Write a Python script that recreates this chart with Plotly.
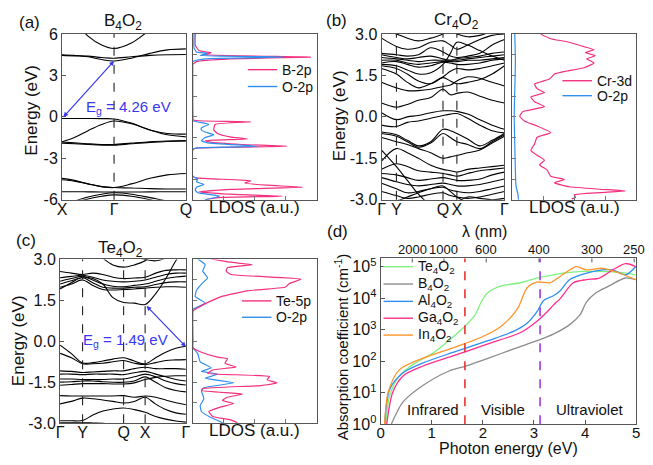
import plotly.graph_objects as go

W, H = 653, 465
def px(x): return x / W
def py(y): return 1 - y / H

FONT = "Liberation Sans, Arial, sans-serif"
PINK = "#f2307f"
BLUE = "#2f8fee"
ARROW = "#3838f0"

# ---------------- (a) B4O2 band structure ----------------
A_KLABELS = ["X", "Γ", "Q"]
A_KPOS = [0, 0.42, 1.0]
K_A = [0, 0.1, 0.21, 0.32, 0.42, 0.56, 0.71, 0.85, 1.0]
A_BANDS = [
    [7.6, 6.9, 5.85, 5.2, 4.95, 5.35, 6.3, 7.2, 8.0],
    [4.5, 4.45, 4.35, 4.15, 4.05, 4.25, 4.6, 4.85, 4.92],
    [4.45, 4.42, 4.4, 4.3, 4.25, 4.35, 4.45, 4.5, 4.52],
    [-0.12, -0.12, -0.12, -0.13, -0.15, -0.45, -0.95, -1.2, -1.25],
    [-1.8, -1.5, -1.0, -0.55, -0.3, -0.5, -0.95, -1.3, -1.45],
    [-1.9, -1.95, -2.0, -2.05, -2.05, -1.95, -1.85, -1.78, -1.75],
    [-1.82, -1.88, -1.95, -2.0, -2.0, -1.9, -1.8, -1.75, -1.72],
    [-4.45, -4.6, -4.85, -5.05, -5.12, -4.85, -4.45, -4.2, -4.1],
    [-4.55, -4.65, -4.85, -5.05, -5.12, -5.15, -5.2, -5.22, -5.22],
    [-5.42, -5.42, -5.43, -5.44, -5.44, -5.44, -5.43, -5.42, -5.42],
    [-6.4, -6.1, -5.8, -5.6, -5.5, -5.6, -5.85, -6.1, -6.3],
    [-6.5, -6.2, -5.95, -5.75, -5.65, -5.75, -6.0, -6.3, -6.5],
]
A_GAP = {"k0": 0.0, "e0": -0.12, "k1": 0.42, "e1": 4.05, "label": "E<sub>g</sub> = 4.26 eV"}

A_LDOS_NAMES = ["B-2p", "O-2p"]
A_B2P_E = [6.0, 5.2, 4.8, 4.64, 4.5, 4.33, 4.2, 4.0, 3.8, 3.6, 0.0, -0.2, -0.28, -0.36, -0.55, -0.95,
           -1.2, -1.45, -1.6, -1.72, -1.85, -2.0, -2.13, -2.25, -2.35, -4.3, -4.42, -4.63, -4.79, -4.95,
           -5.09, -5.25, -5.44, -5.6, -5.74, -5.85, -6.0]
A_B2P_X = [0.02, 0.02, 0.05, 0.15, 0.08, 0.95, 0.3, 0.03, 0.0, 0.0, 0.0, 0.0, 0.05, 0.47, 0.18, 0.17,
           0.2, 0.3, 0.44, 0.1, 0.15, 0.4, 0.76, 0.05, 0.0, 0.0, 0.03, 0.47, 0.42, 0.6,
           0.89, 0.3, 0.05, 0.3, 0.72, 0.2, 0.1]
A_O2P_E = [6.0, 5.0, 4.7, 4.6, 4.45, 4.33, 4.2, 4.0, 0.0, -0.25, -0.35, -0.54, -0.8, -0.97, -1.1, -1.3,
           -1.5, -1.72, -1.88, -2.13, -2.25, -2.4, -4.3, -4.5, -4.7, -4.9, -5.1, -5.3, -5.5, -5.74, -6.0]
A_O2P_X = [0.01, 0.01, 0.03, 0.12, 0.06, 0.74, 0.1, 0.0, 0.0, 0.0, 0.03, 0.13, 0.07, 0.07, 0.1, 0.17,
           0.1, 0.07, 0.12, 0.52, 0.03, 0.0, 0.0, 0.04, 0.03, 0.09, 0.03, 0.02, 0.04, 0.22, 0.1]

# ---------------- (b) Cr4O2 band structure ----------------
B_KLABELS = ["Γ", "Y", "Q", "X", "Γ"]
B_KPOS = [0, 0.121, 0.5, 0.613, 1.0]
K_B = [0, 0.121, 0.21, 0.3, 0.4, 0.5, 0.56, 0.613, 0.7, 0.8, 0.9, 1.0]
B_BANDS = [
    [3.2, 3.0, 2.85, 2.75, 2.85, 3.0, 3.1, 3.0, 2.9, 2.95, 3.1, 3.2],
    [2.85, 2.55, 2.45, 2.5, 2.7, 2.75, 2.6, 2.45, 2.6, 2.8, 2.95, 3.0],
    [2.3, 2.25, 2.2, 2.25, 2.5, 2.35, 2.2, 2.15, 2.2, 2.3, 2.6, 2.8],
    [2.25, 2.15, 2.1, 2.15, 2.2, 2.1, 2.05, 2.1, 2.15, 2.2, 2.3, 2.35],
    [2.15, 2.1, 2.05, 2.0, 2.05, 2.05, 2.05, 2.05, 2.1, 2.15, 2.2, 2.25],
    [2.05, 2.05, 1.95, 1.9, 1.95, 2.0, 2.0, 2.0, 2.05, 2.05, 2.1, 2.15],
    [1.95, 2.0, 1.9, 1.8, 1.85, 1.98, 1.95, 1.9, 1.9, 1.95, 2.05, 2.1],
    [1.9, 1.85, 1.7, 1.55, 1.6, 1.9, 2.3, 2.7, 2.6, 2.4, 2.2, 2.05],
    [1.85, 1.75, 1.55, 1.3, 1.2, 1.45, 1.65, 1.75, 1.7, 1.75, 1.85, 1.95],
    [1.75, 1.55, 1.25, 1.05, 1.2, 1.42, 1.3, 1.2, 1.25, 1.35, 1.55, 1.85],
    [1.25, 1.05, 0.95, 0.95, 1.0, 1.1, 1.15, 1.3, 1.45, 1.4, 1.25, 1.12],
    [0.5, 0.35, 0.45, 0.6, 0.7, 1.0, 0.8, 0.85, 0.9, 0.75, 0.6, 0.5],
    [0.15, -0.1, 0.0, 0.05, 0.15, 0.22, 0.22, 0.2, 0.1, -0.1, -0.3, -0.45],
    [-0.3, -0.35, -0.2, -0.15, -0.05, 0.05, 0.1, 0.12, -0.05, -0.3, -0.5, -0.58],
    [-0.55, -0.65, -0.85, -1.05, -0.9, -0.45, -0.5, -0.6, -0.8, -1.05, -0.85, -0.6],
    [-0.6, -0.7, -0.9, -1.1, -0.95, -0.6, -0.75, -0.9, -1.0, -1.15, -0.9, -0.65],
    [-0.75, -0.9, -1.0, -1.15, -1.3, -1.5, -1.45, -1.4, -1.3, -1.2, -0.95, -0.7],
    [-1.6, -1.15, -1.3, -1.5, -1.75, -1.9, -1.95, -2.0, -1.9, -1.85, -1.8, -1.75],
    [-1.9, -1.7, -1.8, -1.95, -2.0, -2.05, -2.1, -2.15, -2.05, -1.95, -1.9, -1.85],
    [-2.05, -2.1, -2.2, -2.3, -2.25, -2.2, -2.25, -2.3, -2.3, -2.25, -2.1, -2.0],
    [-2.2, -2.35, -2.45, -2.5, -2.45, -2.4, -2.45, -2.5, -2.5, -2.45, -2.35, -2.25],
    [-2.4, -2.6, -2.75, -2.7, -2.6, -2.55, -2.65, -2.7, -2.75, -2.7, -2.6, -2.5],
    [-2.7, -2.85, -2.95, -2.9, -2.8, -2.75, -2.85, -2.9, -2.95, -2.9, -2.8, -2.7],
    [-1.2, -1.8, -2.3, -2.8, -3.2, -3.4, -3.3, -3.1, -2.9, -2.95, -3.0, -2.95],
    [-3.2, -3.05, -2.9, -2.75, -2.6, -2.5, -2.7, -2.9, -3.1, -3.2, -3.3, -3.3],
]
B_LDOS_NAMES = ["Cr-3d", "O-2p"]
B_CR3D_E = [2.99, 2.83, 2.72, 2.54, 2.43, 2.33, 2.21, 2.1, 1.95, 1.78, 1.66, 1.55, 1.37, 1.19, 1.02,
            0.88, 0.72, 0.55, 0.37, 0.19, 0.02, -0.16, -0.33, -0.57, -0.74, -0.98, -1.21, -1.39,
            -1.57, -1.74, -1.92, -2.15, -2.27, -2.39, -2.53, -2.62, -2.68, -2.74, -2.82, -2.92, -2.97]
B_CR3D_X = [0.23, 0.31, 0.44, 0.58, 0.66, 0.59, 0.67, 0.6, 0.66, 0.58, 0.44, 0.34, 0.3, 0.18, 0.2,
            0.26, 0.15, 0.18, 0.26, 0.085, 0.06, 0.1, 0.2, 0.31, 0.2, 0.18, 0.15, 0.2,
            0.26, 0.22, 0.28, 0.31, 0.42, 0.34, 0.46, 0.71, 0.91, 0.71, 0.5, 0.51, 0.48]
B_O2P_E = [3.0, 2.0, 1.0, 0.0, -1.0, -2.0, -2.5, -2.8, -3.0]
B_O2P_X = [0.02, 0.025, 0.02, 0.015, 0.02, 0.025, 0.03, 0.045, 0.05]

# ---------------- (c) Te4O2 band structure ----------------
C_KLABELS = ["Γ", "Y", "Q", "X", "Γ"]
C_KPOS = [0, 0.179, 0.505, 0.676, 1.0]
K_C = [0, 0.09, 0.179, 0.26, 0.34, 0.42, 0.505, 0.59, 0.676, 0.76, 0.84, 0.92, 1.0]
C_BANDS = [
    [4.2, 4.0, 3.8, 3.4, 3.05, 2.8, 2.72, 2.8, 2.95, 3.3, 3.6, 3.8, 4.0],
    [3.6, 3.6, 3.5, 3.5, 3.4, 3.3, 3.2, 3.1, 3.0, 2.95, 3.05, 3.2, 3.3],
    [2.56, 2.5, 2.45, 2.5, 2.45, 2.35, 2.3, 2.32, 2.35, 2.5, 2.6, 2.62, 2.62],
    [2.33, 2.38, 2.42, 2.35, 2.25, 2.2, 2.18, 2.2, 2.25, 2.35, 2.45, 2.5, 2.5],
    [2.2, 2.3, 2.38, 2.25, 2.1, 2.02, 2.0, 2.05, 2.1, 2.2, 2.3, 2.36, 2.39],
    [2.1, 2.22, 2.33, 2.15, 1.98, 1.95, 1.95, 1.98, 2.0, 2.08, 2.15, 2.18, 2.18],
    [1.98, 2.1, 2.25, 2.05, 1.9, 1.88, 1.9, 1.92, 1.95, 1.98, 2.0, 2.0, 1.98],
    [1.92, 2.15, 2.35, 2.3, 2.1, 1.6, 1.42, 1.4, 1.35, 1.75, 2.3, 2.95, 3.5],
    [-0.14, -0.45, -0.79, -0.78, -0.72, -0.65, -0.6, -0.72, -0.82, -0.6, -0.4, -0.25, -0.18],
    [-0.44, -0.6, -0.82, -0.82, -0.8, -0.75, -0.7, -0.8, -0.85, -0.78, -0.7, -0.68, -0.67],
    [-1.08, -1.1, -1.14, -1.12, -1.1, -1.08, -1.08, -1.0, -0.95, -1.0, -1.0, -1.0, -1.02],
    [-1.2, -1.2, -1.22, -1.2, -1.2, -1.2, -1.22, -1.15, -1.1, -1.2, -1.3, -1.4, -1.45],
    [-1.38, -1.38, -1.4, -1.4, -1.4, -1.38, -1.38, -1.3, -1.2, -1.3, -1.45, -1.55, -1.6],
    [-1.49, -1.48, -1.45, -1.45, -1.48, -1.5, -1.5, -1.45, -1.3, -1.5, -1.7, -1.8, -1.85],
    [-1.61, -1.58, -1.55, -1.55, -1.55, -1.56, -1.56, -1.52, -1.4, -1.32, -1.28, -1.26, -1.26],
    [-1.99, -2.0, -2.0, -2.0, -2.0, -2.0, -1.99, -2.05, -2.0, -2.05, -2.15, -2.25, -2.32],
    [-2.29, -2.2, -2.08, -2.1, -2.15, -2.2, -2.26, -2.2, -2.05, -2.3, -2.5, -2.62, -2.67],
    [-2.91, -2.91, -2.9, -2.7, -2.55, -2.48, -2.44, -2.5, -2.6, -2.75, -2.85, -2.92, -2.96],
    [-2.98, -2.98, -2.98, -2.99, -3.0, -3.05, -3.1, -3.1, -3.1, -3.1, -3.1, -3.1, -3.1],
]
C_GAP = {"k0": 0.676, "e0": 1.35, "k1": 1.0, "e1": -0.2, "label": "E<sub>g</sub> = 1.49 eV"}
C_LDOS_NAMES = ["Te-5p", "O-2p"]
C_TE5P_E = [3.02, 2.9, 2.81, 2.7, 2.57, 2.45, 2.28, 2.12, 1.99, 1.85, 1.64, 1.4, 1.2, 1.11, 0.0,
            -0.23, -0.4, -0.58, -0.64, -0.8, -0.94, -1.05, -1.17, -1.29, -1.41, -1.52, -1.62,
            -1.73, -1.8, -1.93, -2.05, -2.16, -2.28, -2.4, -2.57, -2.75, -2.87, -2.98]
C_TE5P_X = [0.146, 0.3, 0.48, 0.28, 0.27, 0.31, 0.875, 0.78, 0.75, 0.44, 0.23, 0.11, 0.03, 0.0, 0.0,
            0.0, 0.07, 0.2, 0.28, 0.26, 0.35, 0.16, 0.12, 0.62, 0.6, 0.68, 0.55,
            0.08, 0.07, 0.4, 0.28, 0.24, 0.33, 0.23, 0.13, 0.16, 0.3, 0.36]
C_O2P_E = [3.02, 2.81, 2.57, 2.33, 2.1, 1.87, 1.64, 1.4, 1.17, 1.1, 0.0, -0.23, -0.45, -0.75, -0.97,
           -1.1, -1.2, -1.35, -1.52, -1.7, -1.82, -2.1, -2.35, -2.57, -2.8, -2.98]
C_O2P_X = [0.04, 0.1, 0.08, 0.12, 0.07, 0.03, 0.02, 0.1, 0.0, 0.0, 0.0, 0.0, 0.04, 0.06, 0.15,
           0.07, 0.2, 0.1, 0.33, 0.09, 0.07, 0.09, 0.06, 0.07, 0.15, 0.24]

# ---------------- (d) absorption ----------------
D_NAMES = ["Te<sub>4</sub>O<sub>2</sub>", "B<sub>4</sub>O<sub>2</sub>", "Al<sub>4</sub>O<sub>2</sub>",
           "Ga<sub>4</sub>O<sub>2</sub>", "In<sub>4</sub>O<sub>2</sub>"]
D_COLORS = ["#80f080", "#8c8c8c", "#2f8ff0", "#ff2f8c", "#ff952b"]
TE_E = [0.1, 0.18, 0.37, 0.63, 1.01, 1.33, 1.65, 1.85, 1.97, 2.1, 2.36, 2.74, 3.06, 3.38, 3.7, 4.03, 4.67, 4.99]
TE_A = [1.0, 8.3, 34, 78, 174, 447, 1290, 2950, 7590, 1.51e4, 2.45e4, 3.09e4, 4.37e4, 5.5e4, 6.6e4, 7.1e4, 6.6e4, 5.5e4]
B_E = [0.21, 0.44, 0.82, 1.33, 1.65, 2.1, 2.62, 3.06, 3.38, 3.7, 3.9, 4.03, 4.22, 4.47, 4.79, 4.99]
B_A = [1.0, 5.1, 16.6, 48, 69, 123, 251, 447, 724, 1450, 2950, 7590, 1.51e4, 2.45e4, 4.37e4, 3.9e4]
AL_E = [0.08, 0.18, 0.44, 0.82, 1.46, 2.1, 2.62, 2.87, 3.06, 3.19, 3.38, 3.51, 3.7, 4.03, 4.35, 4.54, 4.79, 4.99]
AL_A = [1.0, 13, 43, 87, 200, 447, 912, 1620, 3720, 8500, 1.2e4, 1.7e4, 3.9e4, 6.3e4, 7.9e4, 7.9e4, 5.5e4, 1.0e5]
GA_E = [0.12, 0.24, 0.44, 0.82, 1.46, 2.1, 2.74, 3.06, 3.26, 3.38, 3.51, 3.77, 4.03, 4.28, 4.54, 4.79, 4.99]
GA_A = [1.0, 10.5, 34, 69, 155, 355, 813, 1860, 3720, 6030, 9550, 3.09e4, 3.9e4, 4.37e4, 7.9e4, 1.26e5, 1.0e5]
IN_E = [0.08, 0.15, 0.37, 0.82, 1.46, 1.97, 2.36, 2.68, 2.87, 3.06, 3.32, 3.51, 3.83, 4.03, 4.35, 4.67, 4.99]
IN_A = [1.0, 10.5, 54, 123, 282, 575, 1290, 4680, 2.19e4, 3.24e4, 3.09e4, 4.9e4, 1.0e5, 7.9e4, 8.9e4, 6.3e4, 3.9e4]
D_SERIES = [(TE_E, TE_A), (B_E, B_A), (AL_E, AL_A), (GA_E, GA_A), (IN_E, IN_A)]
LAMBDA_TICKS = [2000, 1000, 600, 400, 300, 250]
REGION_BOUNDS = [1.65, 3.12]
REGION_COLORS = ["#e83232", "#a23ad8"]
REGION_LABELS = ["Infrared", "Visible", "Ultraviolet"]
REGION_LABEL_E = [1.02, 2.39, 4.1]

fig = go.Figure()

def band_traces(K, bands, xa, ya):
    for b in bands:
        fig.add_trace(go.Scatter(x=K, y=b, mode="lines", xaxis=xa, yaxis=ya, showlegend=False,
                                 hoverinfo="skip",
                                 line=dict(color="black", width=1.1, shape="spline", smoothing=1.0)))

def ldos_trace(xv, ev, color, xa, ya):
    fig.add_trace(go.Scatter(x=xv, y=ev, mode="lines", xaxis=xa, yaxis=ya, showlegend=False,
                             hoverinfo="skip",
                             line=dict(color=color, width=1.2, shape="spline", smoothing=0.4)))

band_traces(K_A, A_BANDS, "x", "y")
ldos_trace(A_B2P_X, A_B2P_E, PINK, "x2", "y2")
ldos_trace(A_O2P_X, A_O2P_E, BLUE, "x2", "y2")
band_traces(K_B, B_BANDS, "x3", "y3")
ldos_trace(B_CR3D_X, B_CR3D_E, PINK, "x4", "y4")
ldos_trace(B_O2P_X, B_O2P_E, BLUE, "x4", "y4")
band_traces(K_C, C_BANDS, "x5", "y5")
ldos_trace(C_O2P_X, C_O2P_E, BLUE, "x6", "y6")
ldos_trace(C_TE5P_X, C_TE5P_E, PINK, "x6", "y6")

for (ex, ay), col in zip(D_SERIES, D_COLORS):
    fig.add_trace(go.Scatter(x=ex, y=ay, mode="lines", xaxis="x7", yaxis="y7", showlegend=False,
                             hoverinfo="skip",
                             line=dict(color=col, width=1.3, shape="spline", smoothing=0.8)))

TF = dict(family=FONT, size=16, color="#111")
TF15 = dict(family=FONT, size=15, color="#111")
TF13 = dict(family=FONT, size=13, color="#111")
frame = dict(showline=True, mirror=True, linecolor="#555", linewidth=1, showgrid=False, zeroline=False)

def band_x(dom, anchor, kpos, klabels):
    return dict(domain=dom, anchor=anchor, range=[0, 1], tickvals=kpos, ticktext=klabels,
                ticks="", tickfont=TF, ticklabelstandoff=-5, **frame)

def band_y(dom, anchor, rng, tv, tt):
    return dict(domain=dom, anchor=anchor, range=rng, tickvals=tv, ticktext=tt, ticks="inside",
                ticklen=4, tickcolor="#555", tickfont=TF, **frame)

def ldos_x(dom, anchor):
    return dict(domain=dom, anchor=anchor, range=[0, 1], tickvals=[0.25, 0.5, 0.75],
                showticklabels=False, ticks="inside", ticklen=4, tickcolor="#777", **frame)

def ldos_y(dom, anchor, rng, dt):
    return dict(domain=dom, anchor=anchor, range=rng, dtick=dt, tick0=0, showticklabels=False,
                ticks="inside", ticklen=4, tickcolor="#777", **frame)

XA = [px(58), px(184)]
XB = [px(383), px(508)]
XC = [px(56), px(184)]
YA = [py(199), py(27)]
YC = [py(431), py(261)]
fig.update_layout(
    width=W, height=H, margin=dict(l=0, r=0, t=0, b=0),
    paper_bgcolor="white", plot_bgcolor="white", showlegend=False,
    font=dict(family=FONT, color="#111"),
    xaxis=band_x(XA, "y", A_KPOS, A_KLABELS),
    yaxis=band_y(YA, "x", [-6, 6], [-6, -3, 0, 3, 6], ["-6", "-3", "0", "3", "6"]),
    xaxis2=ldos_x([px(191), px(317)], "y2"),
    yaxis2=ldos_y(YA, "x2", [-6, 6], 1.5),
    xaxis3=band_x(XB, "y3", B_KPOS, B_KLABELS),
    yaxis3=band_y(YA, "x3", [-3, 3], [-3, -1.5, 0, 1.5, 3], ["-3.0", "-1.5", "0.0", "1.5", "3.0"]),
    xaxis4=ldos_x([px(516), px(642)], "y4"),
    yaxis4=ldos_y(YA, "x4", [-3, 3], 0.75),
    xaxis5=band_x(XC, "y5", C_KPOS, C_KLABELS),
    yaxis5=band_y(YC, "x5", [-3, 3], [-3, -1.5, 0, 1.5, 3], ["-3.0", "-1.5", "0.0", "1.5", "3.0"]),
    xaxis6=ldos_x([px(191), px(317)], "y6"),
    yaxis6=ldos_y(YC, "x6", [-3, 3], 0.75),
    xaxis7=dict(domain=[px(382), px(642)], anchor="y7", range=[0, 5], dtick=1, ticks="inside",
                ticklen=4, tickcolor="#555", tickfont=TF15, ticklabelstandoff=-5, showline=True,
                linecolor="#555", mirror=True, showgrid=False, zeroline=False),
    yaxis7=dict(domain=[py(432), py(260)], anchor="x7", type="log", range=[0, 5.26],
                tickvals=[1, 10, 100, 1e3, 1e4, 1e5],
                ticktext=["10<sup>0</sup>", "10<sup>1</sup>", "10<sup>2</sup>", "10<sup>3</sup>",
                          "10<sup>4</sup>", "10<sup>5</sup>"],
                ticks="inside", ticklen=4, tickcolor="#555", tickfont=TF, mirror=True,
                showline=True, linecolor="#555", showgrid=False, zeroline=False),
)

shapes = []
annotations = []

def vdash(xa, ya, xv, color="#222", width=1.1, dash="dash"):
    shapes.append(dict(type="line", xref=xa, yref=ya + " domain", x0=xv, x1=xv, y0=0, y1=1,
                       line=dict(color=color, width=width, dash=dash)))

def txt(x, y, s, size=16, color="#111", angle=0, xanchor="center"):
    annotations.append(dict(x=px(x), y=py(y), xref="paper", yref="paper", text=s, showarrow=False,
                            font=dict(family=FONT, size=size, color=color), textangle=angle,
                            xanchor=xanchor, yanchor="middle"))

vdash("x", "y", A_KPOS[1])
for k in B_KPOS[1:4]:
    vdash("x3", "y3", k)
for k in C_KPOS[1:4]:
    vdash("x5", "y5", k)
for xb, col in zip(REGION_BOUNDS, REGION_COLORS):
    vdash("x7", "y7", xb, color=col, width=1.6)

# top wavelength axis of (d): positions from photon energy E = 1240 / lambda
for lam in LAMBDA_TICKS:
    ev = 1240 / lam
    shapes.append(dict(type="line", xref="x7", yref="y7 domain", x0=ev, x1=ev, y0=1, y1=1 - 4 / 172,
                       line=dict(color="#555", width=1)))
    annotations.append(dict(x=ev, y=py(251), xref="x7", yref="paper", text=str(lam), showarrow=False,
                            font=TF13, xanchor="center", yanchor="middle"))

def legend(x0, ys, names, colors, size=14):
    for yy, n, c in zip(ys, names, colors):
        shapes.append(dict(type="line", xref="paper", yref="paper", x0=px(x0), x1=px(x0 + 30),
                           y0=py(yy), y1=py(yy), line=dict(color=c, width=1.4)))
        txt(x0 + 33, yy, n, size=size, xanchor="left")

legend(247, [64, 81.5], A_LDOS_NAMES, [PINK, BLUE])
legend(567, [75.5, 91], B_LDOS_NAMES, [PINK, BLUE])
legend(241, [304, 321], C_LDOS_NAMES, [PINK, BLUE])
legend(385, [268.5, 286.5, 304.5, 322, 339.5], D_NAMES, D_COLORS)

# panel labels and titles
txt(25, 15, "(a)", 17)
txt(120, 15, "B<sub>4</sub>O<sub>2</sub>", 17)
txt(337, 13, "(b)", 17)
txt(459, 14, "Cr<sub>4</sub>O<sub>2</sub>", 17)
txt(21, 241, "(c)", 17)
txt(117, 250, "Te<sub>4</sub>O<sub>2</sub>", 17)
txt(338, 232, "(d)", 17)
txt(27, 106, "Energy (eV)", 17, angle=-90)
txt(341, 112, "Energy (eV)", 17, angle=-90)
txt(14, 345, "Energy (eV)", 17, angle=-90)
txt(254, 207, "LDOS (a.u.)", 17)
txt(579, 207, "LDOS (a.u.)", 17)
txt(254, 439, "LDOS (a.u.)", 17)
txt(342, 352, "Absorption coefficient (cm<sup>-1</sup>)", 15, angle=-90)
txt(512, 457.5, "Photon energy (eV)", 16)
txt(488, 232, "λ (nm)", 16)

# region labels in (d) (y given in log10 units of the log axis)
for lab, ex in zip(REGION_LABELS, REGION_LABEL_E):
    annotations.append(dict(x=ex, y=0.47, xref="x7", yref="y7", text=lab, showarrow=False,
                            font=dict(family=FONT, size=15, color="#111")))

# band gap arrows
for gap, xa, ya, tx, ty in [(A_GAP, "x", "y", 126, 103), (C_GAP, "x5", "y5", 123, 345)]:
    annotations.append(dict(x=gap["k1"], y=gap["e1"], ax=gap["k0"], ay=gap["e0"], xref=xa, yref=ya,
                            axref=xa, ayref=ya, showarrow=True, arrowhead=2, startarrowhead=2,
                            arrowside="end+start", arrowsize=0.8, startarrowsize=0.8,
                            arrowwidth=1.2, arrowcolor=ARROW, text=""))
    txt(tx, ty, gap["label"], 15, color=ARROW)

fig.update_layout(shapes=shapes, annotations=annotations)
fig.write_html("out.html")
